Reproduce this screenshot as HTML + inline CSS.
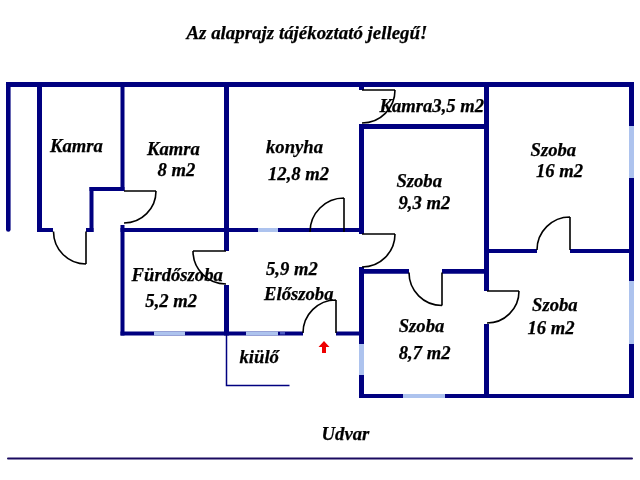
<!DOCTYPE html><html><head><meta charset="utf-8"><style>html,body{margin:0;padding:0;background:#fff;}svg{display:block;will-change:transform}text{font-family:"Liberation Serif",serif;font-weight:bold;font-style:italic;font-size:18.67px;fill:#000;stroke:#000;stroke-width:0.25px}</style></head><body>
<svg width="640" height="480" viewBox="0 0 640 480">
<rect width="640" height="480" fill="#fff"/>
<line x1="8.3" y1="84.5" x2="8.3" y2="229.5" stroke="#000080" stroke-width="4.6" stroke-linecap="round"/>
<path d="M226.5,335 V385.5 H289.5" fill="none" stroke="#000080" stroke-width="1.5"/>
<line x1="8" y1="458.5" x2="632" y2="458.5" stroke="#1a0a60" stroke-width="2" stroke-linecap="round"/>
<rect x="6" y="82" width="628" height="5" fill="#000080"/>
<rect x="37" y="82" width="5" height="150" fill="#000080"/>
<rect x="37" y="228" width="16" height="4" fill="#000080"/>
<rect x="86" y="228" width="7.5" height="4" fill="#000080"/>
<rect x="89.5" y="187" width="4.0" height="45" fill="#000080"/>
<rect x="89.5" y="187" width="35.0" height="4" fill="#000080"/>
<rect x="120.5" y="82" width="4.0" height="109" fill="#000080"/>
<rect x="120.5" y="225" width="4.0" height="110.5" fill="#000080"/>
<rect x="120.5" y="228" width="242.5" height="4" fill="#000080"/>
<rect x="224" y="82" width="5" height="169" fill="#000080"/>
<rect x="224" y="285" width="5" height="50.5" fill="#000080"/>
<rect x="120.5" y="331.5" width="182.5" height="4.0" fill="#000080"/>
<rect x="336" y="331.5" width="28" height="4.0" fill="#000080"/>
<rect x="359" y="124" width="5" height="110" fill="#000080"/>
<rect x="359" y="267" width="5" height="131" fill="#000080"/>
<rect x="359" y="87" width="5" height="3" fill="#000080"/>
<rect x="359" y="124" width="130" height="5" fill="#000080"/>
<rect x="484" y="82" width="5" height="209" fill="#000080"/>
<rect x="484" y="324" width="5" height="74" fill="#000080"/>
<rect x="359" y="269" width="50" height="4.75" fill="#000080"/>
<rect x="442" y="269" width="47" height="4.75" fill="#000080"/>
<rect x="489" y="249" width="48" height="4" fill="#000080"/>
<rect x="570" y="249" width="64" height="4" fill="#000080"/>
<rect x="629" y="82" width="5" height="316" fill="#000080"/>
<rect x="359" y="394" width="275" height="4" fill="#000080"/>
<rect x="258" y="228" width="20" height="4" fill="#adc3ee"/>
<rect x="154" y="331.5" width="31" height="4.0" fill="#adc3ee"/>
<rect x="246" y="331.5" width="32" height="4.0" fill="#adc3ee"/>
<rect x="629" y="126" width="5" height="52" fill="#adc3ee"/>
<rect x="629" y="281" width="5" height="63" fill="#adc3ee"/>
<rect x="359" y="344" width="5" height="31" fill="#adc3ee"/>
<rect x="403" y="394" width="42" height="4" fill="#adc3ee"/>
<path d="M86,231.5 L86,264 M86,264 A32.5,32.5 0 0 1 53.5,231.5" fill="none" stroke="#000" stroke-width="1.6"/>
<path d="M124,191 L156,191 M156,191 A32.0,32.0 0 0 1 124,223" fill="none" stroke="#000" stroke-width="1.6"/>
<path d="M226,251 L193,251 M193,251 A33.0,33.0 0 0 0 226,284" fill="none" stroke="#000" stroke-width="1.6"/>
<path d="M344,232 L344,198 M344,198 A34.0,34.0 0 0 0 310,232" fill="none" stroke="#000" stroke-width="1.6"/>
<path d="M362,90 L395,90 M395,90 A33.0,33.0 0 0 1 362,123" fill="none" stroke="#000" stroke-width="1.6"/>
<path d="M362,234 L395,234 M395,234 A33.0,33.0 0 0 1 362,267" fill="none" stroke="#000" stroke-width="1.6"/>
<path d="M442,272.5 L442,305.5 M442,305.5 A33.0,33.0 0 0 1 409,272.5" fill="none" stroke="#000" stroke-width="1.6"/>
<path d="M570,250 L570,217 M570,217 A33.0,33.0 0 0 0 537,250" fill="none" stroke="#000" stroke-width="1.6"/>
<path d="M487,291 L519,291 M519,291 A32.0,32.0 0 0 1 487,323" fill="none" stroke="#000" stroke-width="1.6"/>
<path d="M336,333 L336,300 M336,300 A33.0,33.0 0 0 0 303,333" fill="none" stroke="#000" stroke-width="1.6"/>
<rect x="280" y="332" width="5" height="2.5" fill="#4a58c0"/>
<path d="M324,341 L329.5,347 L326,347 L326,353 L322,353 L322,347 L318.5,347 Z" fill="#e00"/>
<text x="186.5" y="38.699999999999996" style="font-size:18.9px">Az alaprajz tájékoztató jellegű!</text>
<text x="50" y="152.4">Kamra</text>
<text x="147" y="155.4">Kamra</text>
<text x="157.5" y="176.4">8 m2</text>
<text x="266" y="153.4">konyha</text>
<text x="268" y="180.4">12,8 m2</text>
<text x="379.5" y="112.4">Kamra3,5 m2</text>
<text x="396.4" y="186.9">Szoba</text>
<text x="398.4" y="209.1">9,3 m2</text>
<text x="530.5" y="156.4">Szoba</text>
<text x="536" y="177.4">16 m2</text>
<text x="131.6" y="280.7">Fürdőszoba</text>
<text x="145.3" y="307.0">5,2 m2</text>
<text x="266" y="274.9">5,9 m2</text>
<text x="264" y="300.09999999999997">Előszoba</text>
<text x="398.7" y="332.2">Szoba</text>
<text x="398.7" y="359.09999999999997">8,7 m2</text>
<text x="532" y="311.4">Szoba</text>
<text x="527.5" y="334.09999999999997">16 m2</text>
<text x="239.5" y="363.4">kiülő</text>
<text x="321.6" y="440.0">Udvar</text>
</svg></body></html>
